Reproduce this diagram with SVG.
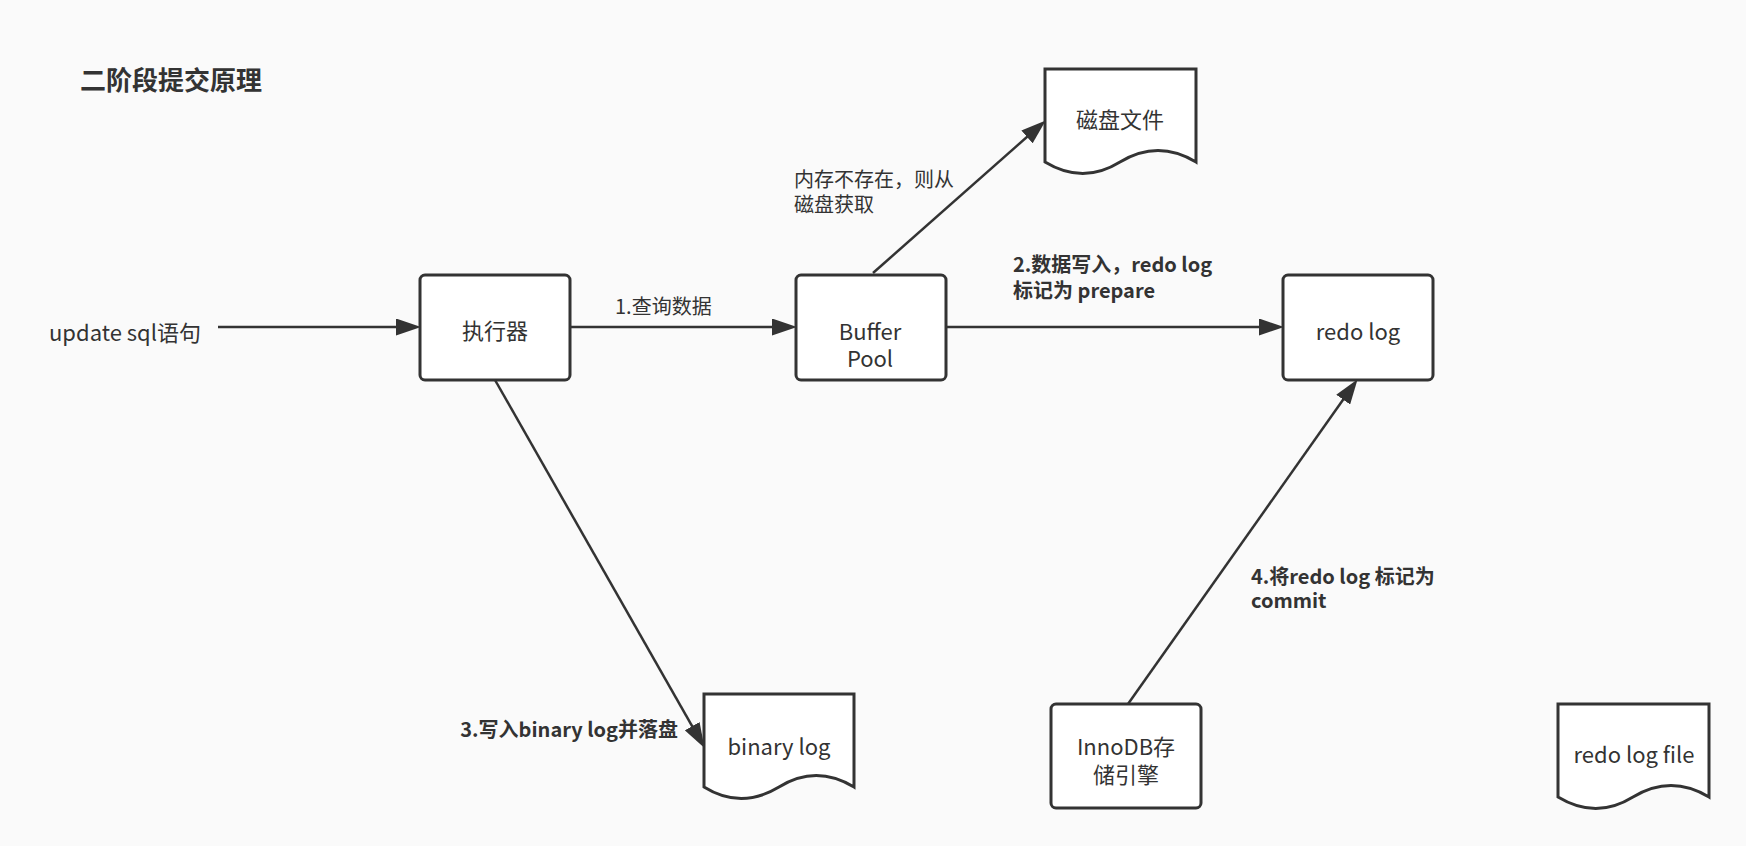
<svg xmlns="http://www.w3.org/2000/svg" width="1746" height="846" viewBox="0 0 1746 846">
<defs>
<style>
text{font-family:"Noto Sans CJK SC","Liberation Sans",sans-serif;fill:#333;dominant-baseline:central}
.box{fill:#fff;stroke:#333;stroke-width:3}
.lbl{font-size:22px;text-anchor:middle}
.note{font-size:20px}
.bold{font-size:20px;font-weight:bold}
.edge{stroke:#333;stroke-width:2.5;fill:none;marker-end:url(#arr)}
</style>
<marker id="arr" markerUnits="userSpaceOnUse" markerWidth="25" markerHeight="17" refX="12" refY="8.5" orient="auto">
<path d="M0,0 L25,8.5 L0,17 Z" fill="#333"/>
</marker>
</defs>
<rect width="1746" height="846" fill="#fafafa"/>
<g id="title"><text x="80" y="78" style="font-size:26px;font-weight:bold">二阶段提交原理</text></g>
<g id="input"><text x="49" y="331" style="font-size:22px">update sql语句</text></g>
<g id="executor"><rect class="box" x="420" y="275" width="150" height="105" rx="5"/><text class="lbl" x="495" y="329">执行器</text></g>
<g id="bufferpool"><rect class="box" x="796" y="275" width="150" height="105" rx="5"/><text class="lbl" x="870"><tspan x="870" y="330">Buffer</tspan><tspan x="870" y="357">Pool</tspan></text></g>
<g id="redolog"><rect class="box" x="1283" y="275" width="150" height="105" rx="5"/><text class="lbl" x="1358" y="330">redo log</text></g>
<g id="innodb"><rect class="box" x="1051" y="704" width="150" height="104" rx="5"/><text class="lbl" x="1126"><tspan x="1126" y="745">InnoDB存</tspan><tspan x="1126" y="773">储引擎</tspan></text></g>
<g id="diskfile"><path class="box" d="M1045,69 H1196 V162 Q1158,139 1120,162 Q1083,185 1045,162 Z"/><text class="lbl" x="1120" y="118">磁盘文件</text></g>
<g id="binarylog"><path class="box" d="M704,694 H854 V787 Q816,764 779,787 Q741,810 704,787 Z"/><text class="lbl" x="779" y="745">binary log</text></g>
<g id="redologfile"><path class="box" d="M1558,704 H1709 V797 Q1671,774 1633,797 Q1596,820 1558,797 Z"/><text class="lbl" x="1634" y="753">redo log file</text></g>
<g id="connectors">
<line class="edge" x1="218" y1="327" x2="408" y2="327"/>
<line class="edge" x1="570" y1="327" x2="784" y2="327"/>
<line class="edge" x1="946" y1="327" x2="1271" y2="327"/>
<line class="edge" x1="873" y1="273" x2="1036" y2="129"/>
<line class="edge" x1="495" y1="380" x2="698.1" y2="736.6"/>
<line class="edge" x1="1128" y1="704" x2="1350.1" y2="389.8"/>
</g>
<g id="labels">
<text class="note" x="615" y="305">1.查询数据</text>
<text class="note"><tspan x="794" y="178">内存不存在，则从</tspan><tspan x="794" y="203">磁盘获取</tspan></text>
<text class="bold"><tspan x="1013" y="263">2.数据写入，redo log</tspan><tspan x="1013" y="289">标记为 prepare</tspan></text>
<text class="bold" x="678" y="728" text-anchor="end">3.写入binary log并落盘</text>
<text class="bold"><tspan x="1251" y="575">4.将redo log 标记为</tspan><tspan x="1251" y="599">commit</tspan></text>
</g>
</svg>
